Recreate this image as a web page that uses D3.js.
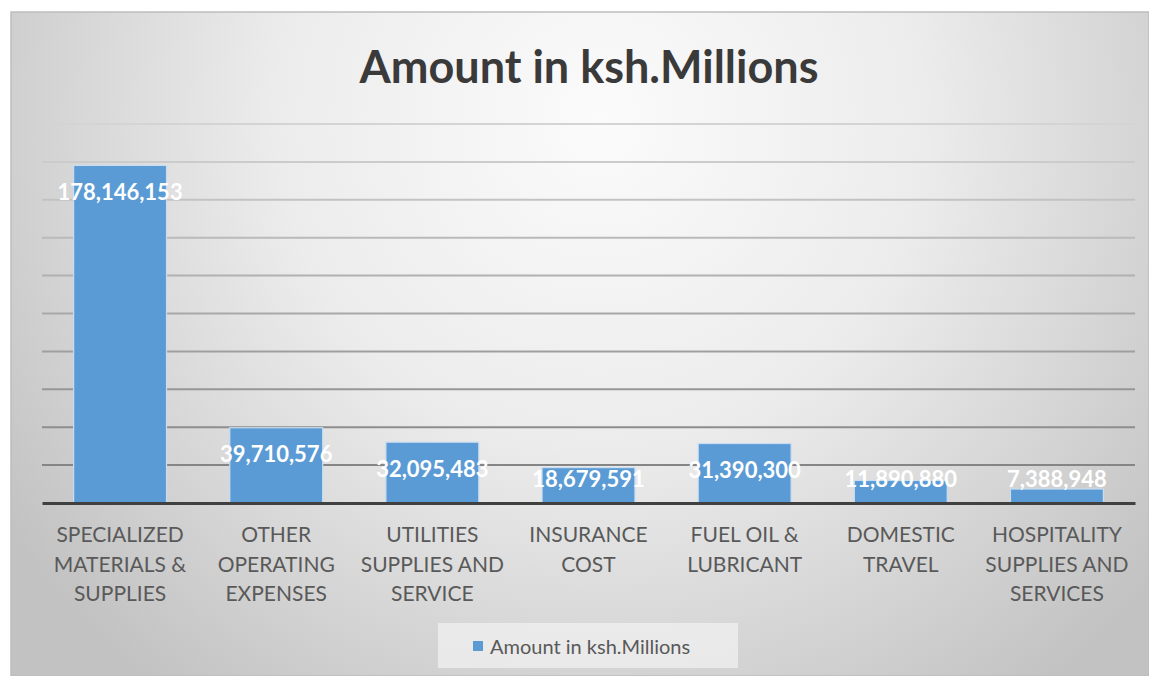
<!DOCTYPE html>
<html>
<head>
<meta charset="utf-8">
<script src="https://cdn.jsdelivr.net/npm/d3@7"></script>
<style>
  body { margin: 0; background: #fff; }
  svg { display: block; font-family: Lato, "Open Sans", sans-serif; }
</style>
</head>
<body>
<svg width="1149" height="676"></svg>
<script>
var categories = [
  "SPECIALIZED MATERIALS & SUPPLIES",
  "OTHER OPERATING EXPENSES",
  "UTILITIES SUPPLIES AND SERVICE",
  "INSURANCE COST",
  "FUEL OIL & LUBRICANT",
  "DOMESTIC TRAVEL",
  "HOSPITALITY SUPPLIES AND SERVICES"
];
var categoryLines = [
  ["SPECIALIZED", "MATERIALS &", "SUPPLIES"],
  ["OTHER", "OPERATING", "EXPENSES"],
  ["UTILITIES", "SUPPLIES AND", "SERVICE"],
  ["INSURANCE", "COST"],
  ["FUEL OIL &", "LUBRICANT"],
  ["DOMESTIC", "TRAVEL"],
  ["HOSPITALITY", "SUPPLIES AND", "SERVICES"]
];
var amounts = [178146153, 39710576, 32095483, 18679591, 31390300, 11890880, 7388948];
var yTicks = d3.range(0, 200000001, 20000000);
var seriesName = "Amount in ksh.Millions";

var svg = d3.select("svg"),
    width = +svg.attr("width"),
    height = +svg.attr("height");

var plot = {left: 42, right: 1135, top: 124, bottom: 503};

var defs = svg.append("defs");
var bg = defs.append("radialGradient")
  .attr("id", "bg")
  .attr("gradientUnits", "userSpaceOnUse")
  .attr("cx", 600).attr("cy", 120).attr("r", 720);
bg.append("stop").attr("offset", "0").attr("stop-color", "#fbfbfb");
bg.append("stop").attr("offset", "0.45").attr("stop-color", "#ececec");
bg.append("stop").attr("offset", "1").attr("stop-color", "#c2c2c2");

var grid = defs.append("linearGradient")
  .attr("id", "gridcol")
  .attr("gradientUnits", "userSpaceOnUse")
  .attr("x1", 0).attr("y1", plot.top).attr("x2", 0).attr("y2", plot.bottom);
grid.append("stop").attr("offset", "0").attr("stop-color", "#d4d4d4");
grid.append("stop").attr("offset", "1").attr("stop-color", "#7c7c7c");

// chart area
svg.append("rect")
  .attr("x", 11).attr("y", 12)
  .attr("width", width - 11).attr("height", height - 12)
  .attr("fill", "url(#bg)")
  .attr("stroke", "#bdbdbd")
  .attr("stroke-width", 1.5);

var x = d3.scaleBand()
  .domain(categories)
  .range([plot.left, plot.right])
  .paddingInner(0.405)
  .paddingOuter(0.2025);

var y = d3.scaleLinear()
  .domain([0, 200000000])
  .range([plot.bottom, plot.top]);

// gridlines
svg.append("g")
  .selectAll("line")
  .data(yTicks.slice(1))
  .enter().append("line")
  .attr("x1", plot.left).attr("x2", plot.right)
  .attr("y1", function(d) { return y(d); })
  .attr("y2", function(d) { return y(d); })
  .attr("stroke", "url(#gridcol)")
  .attr("stroke-width", 2);

// bars
svg.append("g")
  .selectAll("rect")
  .data(amounts)
  .enter().append("rect")
  .attr("x", function(d, i) { return x(categories[i]); })
  .attr("y", function(d) { return y(d); })
  .attr("width", x.bandwidth())
  .attr("height", function(d) { return plot.bottom - y(d); })
  .attr("fill", "#5b9bd5")
  .attr("stroke", "#c9ddf1")
  .attr("stroke-width", 1.2);

// category axis
var xAxis = svg.append("g")
  .attr("transform", "translate(0," + plot.bottom + ")")
  .call(d3.axisBottom(x).tickSize(0).tickFormat(""));
xAxis.select(".domain").attr("stroke", "#404040").attr("stroke-width", 3);

var catLabels = svg.append("g")
  .selectAll("text")
  .data(categories)
  .enter().append("text")
  .attr("text-anchor", "middle")
  .attr("fill", "#595959")
  .attr("font-size", 21)
  .attr("x", function(d) { return x(d) + x.bandwidth() / 2; });
catLabels.each(function(d, i) {
  var t = d3.select(this);
  categoryLines[i].forEach(function(line, j) {
    t.append("tspan")
      .attr("x", x(d) + x.bandwidth() / 2)
      .attr("y", 542 + j * 29.5)
      .text(line);
  });
});

// data labels
var fmt = d3.format(",");
svg.append("g")
  .selectAll("text")
  .data(amounts)
  .enter().append("text")
  .attr("text-anchor", "middle")
  .attr("dominant-baseline", "central")
  .attr("fill", "#ffffff")
  .attr("font-weight", "bold")
  .attr("font-size", 22)
  .attr("x", function(d, i) { return x(categories[i]) + x.bandwidth() / 2; })
  .attr("y", function(d) { return Math.min(y(d) + 26, plot.bottom - 25); })
  .text(function(d) { return fmt(d); });

// title
svg.append("text")
  .attr("x", 589)
  .attr("y", 66)
  .attr("text-anchor", "middle")
  .attr("dominant-baseline", "central")
  .attr("fill", "#3a3a3a")
  .attr("font-weight", "bold")
  .attr("font-size", 45)
  .text(seriesName);

// legend
var legend = svg.append("g");
legend.append("rect")
  .attr("x", 438).attr("y", 623)
  .attr("width", 300).attr("height", 45)
  .attr("fill", "#f2f2f2")
  .attr("opacity", 0.7);
legend.append("rect")
  .attr("x", 473).attr("y", 641)
  .attr("width", 10).attr("height", 10)
  .attr("fill", "#5b9bd5");
legend.append("text")
  .attr("x", 490).attr("y", 646)
  .attr("dominant-baseline", "central")
  .attr("fill", "#595959")
  .attr("font-size", 20)
  .text(seriesName);
</script>
</body>
</html>
